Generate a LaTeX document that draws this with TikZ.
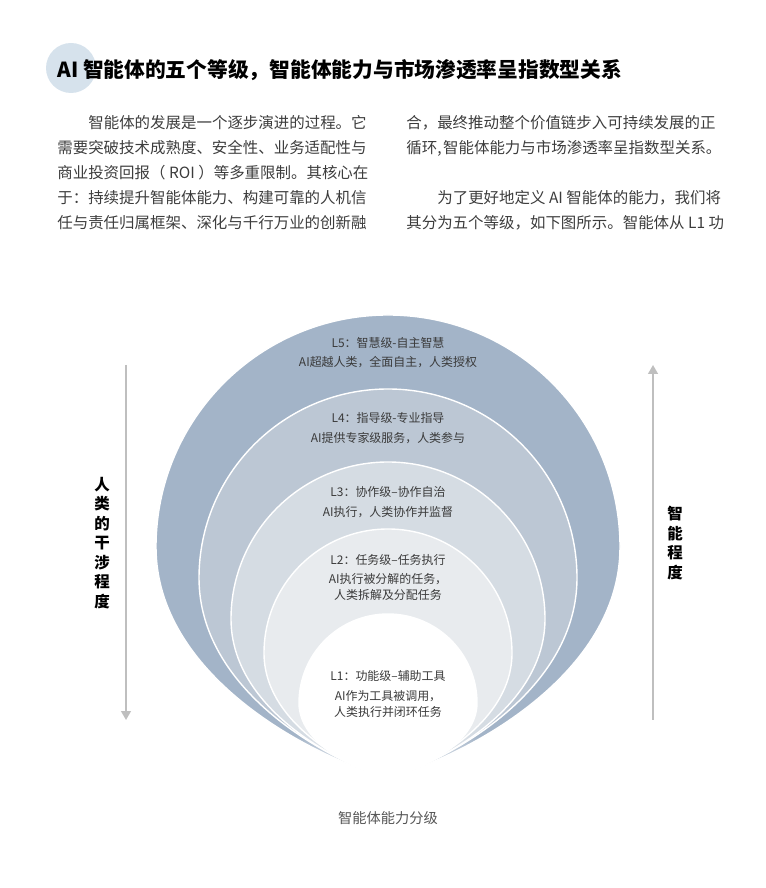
\documentclass[tikz,border=0pt]{standalone}
\usepackage{fontspec}
\setmainfont{Noto Sans CJK SC}
\usepackage{xcolor}
\usetikzlibrary{arrows.meta,fadings}

\definecolor{lvfive}{HTML}{A3B4C8}
\definecolor{lvfour}{HTML}{BCC7D4}
\definecolor{lvthree}{HTML}{D5DCE3}
\definecolor{lvtwo}{HTML}{E8EBEE}
\definecolor{lvone}{HTML}{FFFFFF}
\definecolor{titlecircle}{HTML}{D6E2EC}
\definecolor{axisgray}{HTML}{BFBFBF}
\definecolor{labelgray}{HTML}{3A3A3A}
\definecolor{bodygray}{HTML}{3C3C3C}
\definecolor{captiongray}{HTML}{555555}

\tikzfading[name=fadedown, top color=transparent!100, bottom color=transparent!0]

\begin{document}
\begin{tikzpicture}[x=0.02cm, y=0.02cm,
    body/.style={anchor=west, inner sep=0pt, font=\fontsize{8.8}{10}\selectfont, text=bodygray},
    lvtitle/.style={inner sep=0pt, font=\fontsize{6.8}{8}\selectfont, text=labelgray},
    lvdesc/.style={inner sep=0pt, align=center, font=\fontsize{6.8}{9}\selectfont, text=labelgray},
    side/.style={inner sep=0pt, align=center, font=\fontsize{8.8}{11.1}\selectfont\bfseries},
    axis/.style={draw=axisgray, line width=0.9pt, -{Triangle[width=5.5pt,length=5pt]}},
    level/.style={draw=white, line width=0.8pt},
]
\useasboundingbox (0,0) rectangle (766,888);

% Title
\fill[titlecircle] (71,820) circle[radius=25];
\node[anchor=west, inner sep=0pt, font=\fontsize{11.8}{14}\selectfont\bfseries] (title) at (57,818) {AI 智能体的五个等级，智能体能力与市场渗透率呈指数型关系};

% Body text, left column
\node[body] (pa) at (88,765) {智能体的发展是一个逐步演进的过程。它};
\node[body] (pb) at (57,740) {需要突破技术成熟度、安全性、业务适配性与};
\node[body] (pc) at (57,715) {商业投资回报（ ROI ）等多重限制。其核心在};
\node[body] (pd) at (57,690) {于：持续提升智能体能力、构建可靠的人机信};
\node[body] (pe) at (57,665) {任与责任归属框架、深化与千行万业的创新融};

% Body text, right column
\node[body] (qa) at (406,765) {合，最终推动整个价值链步入可持续发展的正};
\node[body] (qb) at (406,740) {循环,\hspace{0.1em}智能体能力与市场渗透率呈指数型关系。};
\node[body] (qc) at (437,690) {为了更好地定义 AI 智能体的能力，我们将};
\node[body] (qd) at (406,665) {其分为五个等级，如下图所示。智能体从 L1 功};

% Five levels, outer to inner
\foreach \r/\cy/\col in {232/341/lvfive, 189/310/lvfour, 157/269/lvthree, 124/235/lvtwo, 89/185/lvone}{
  \pgfmathsetmacro{\dropd}{\cy-110}
  \filldraw[level, fill=\col] (388,110) .. controls ({388-0.35*\r},{110+0.1*\dropd}) and ({388-\r},{\cy-0.55*\dropd}) .. ({388-\r},\cy)
    arc[start angle=180, end angle=0, radius=\r]
    .. controls ({388+\r},{\cy-0.55*\dropd}) and ({388+0.35*\r},{110+0.1*\dropd}) .. (388,110) -- cycle;
}
\fill[white, path fading=fadedown] (140,110) rectangle (640,152);
\fill[white] (140,100) rectangle (640,110);

% Level labels
\node[lvtitle] (l5a) at (388,545) {L5：智慧级-自主智慧};
\node[lvdesc] (l5b) at (388,526) {AI超越人类，全面自主，人类授权};
\node[lvtitle] (l4a) at (388,470) {L4：指导级-专业指导};
\node[lvdesc] (l4b) at (388,450) {AI提供专家级服务，人类参与};
\node[lvtitle] (l3a) at (388,396) {L3：协作级–协作自治};
\node[lvdesc] (l3b) at (388,376) {AI执行，人类协作并监督};
\node[lvtitle] (l2a) at (388,328) {L2：任务级–任务执行};
\node[lvdesc] (l2b) at (388,301) {AI执行被分解的任务，\\人类拆解及分配任务};
\node[lvtitle] (l1a) at (388,212) {L1：功能级–辅助工具};
\node[lvdesc] (l1b) at (388,184) {AI作为工具被调用，\\人类执行并闭环任务};

% Side axes
\coordinate (hs) at (126,523);
\coordinate (he) at (126,168);
\draw[axis] (hs) -- (he);
\node[side] (human) at (102,345) {人\\类\\的\\干\\涉\\程\\度};
\coordinate (is) at (653,168);
\coordinate (ie) at (653,523);
\draw[axis] (is) -- (ie);
\node[side] (intel) at (675,345) {智\\能\\程\\度};

% Caption
\node[inner sep=0pt, font=\fontsize{8.1}{10}\selectfont, text=captiongray] (caption) at (388,70) {智能体能力分级};

\end{tikzpicture}
\end{document}
